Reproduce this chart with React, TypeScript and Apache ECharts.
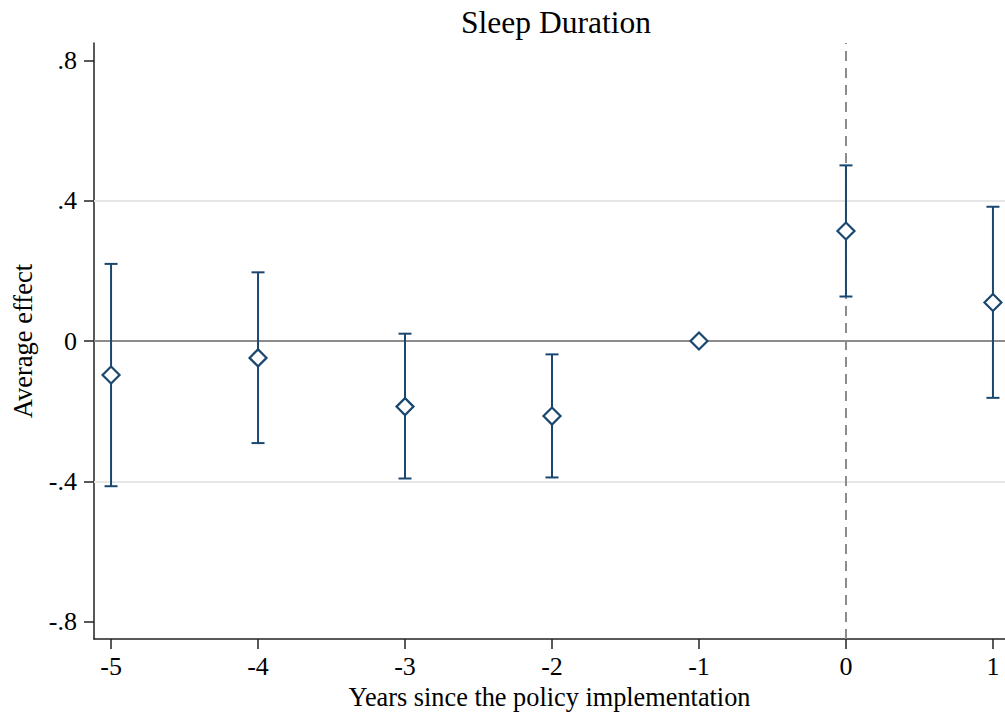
import React, { useEffect, useRef } from "react";
import * as echarts from "echarts";

const years = [-5, -4, -3, -2, -1, 0, 1];
const estimates = [-0.097, -0.048, -0.187, -0.214, 0, 0.314, 0.11];
const upperCI: (number | null)[] = [0.22, 0.196, 0.021, -0.038, null, 0.501, 0.383];
const lowerCI: (number | null)[] = [-0.414, -0.291, -0.392, -0.389, null, 0.127, -0.162];
const yTicks = [-0.8, -0.4, 0, 0.4, 0.8];
const xTicks = [-5, -4, -3, -2, -1, 0, 1];
const gridYs = [-0.4, 0.4];

const NAVY = "#1a476f";
const FONT = "Liberation Serif";

function fmtY(v: number): string {
  if (Math.abs(v) < 1e-9) return "0";
  const s = String(Math.round(Math.abs(v) * 10) / 10).replace(/^0/, "");
  return (v < 0 ? "-" : "") + s;
}

export default function App() {
  const ref = useRef<HTMLDivElement>(null);
  useEffect(() => {
    if (!ref.current) return;
    const chart = echarts.init(ref.current, undefined, { renderer: "svg" });
    const ciData = years
      .map((x, i) => [x, lowerCI[i], upperCI[i]])
      .filter((d) => d[1] !== null && d[2] !== null);
    chart.setOption({
      animation: false,
      backgroundColor: "#ffffff",
      title: {
        text: "Sleep Duration",
        left: 551,
        top: 1,
        textAlign: "center",
        textStyle: { fontFamily: FONT, fontSize: 31.5, fontWeight: "normal", color: "#000" },
      },
      grid: { left: 94, right: 0, top: 43, bottom: 75, containLabel: false },
      xAxis: {
        type: "value",
        min: -5.116,
        max: 1.082,
        name: "Years since the policy implementation",
        nameLocation: "middle",
        nameGap: 42,
        nameTextStyle: { fontFamily: FONT, fontSize: 26.3, color: "#000" },
        axisLine: { show: true, onZero: false, lineStyle: { color: "#222", width: 1.5 } },
        axisTick: { show: true, length: 10, customValues: xTicks, lineStyle: { color: "#222", width: 1.5 } },
        axisLabel: {
          customValues: xTicks,
          fontFamily: FONT,
          fontSize: 26,
          color: "#000",
          margin: 14,
          formatter: (v: number) => String(v),
        },
        splitLine: { show: false },
      },
      yAxis: {
        type: "value",
        min: -0.85,
        max: 0.85,
        name: "Average effect",
        nameLocation: "middle",
        nameGap: 58,
        nameTextStyle: { fontFamily: FONT, fontSize: 26.5, color: "#000" },
        axisLine: { show: true, onZero: false, lineStyle: { color: "#222", width: 1.5 } },
        axisTick: { show: true, length: 10, customValues: yTicks, lineStyle: { color: "#222", width: 1.5 } },
        axisLabel: {
          customValues: yTicks,
          fontFamily: FONT,
          fontSize: 26,
          color: "#000",
          margin: 17,
          formatter: (v: number) => fmtY(v),
        },
        splitLine: { show: false },
      },
      series: [
        {
          type: "line",
          data: [],
          silent: true,
          z: 1,
          markLine: {
            silent: true,
            z: 1,
            symbol: ["none", "none"],
            label: { show: false },
            data: [
              ...gridYs.map((y) => ({ yAxis: y, lineStyle: { color: "#e6e6e6", width: 2, type: "solid" } })),
              { yAxis: 0, lineStyle: { color: "#8c8c8c", width: 2, type: "solid" } },
              { xAxis: 0, lineStyle: { color: "#8c8c8c", width: 2, type: [10, 7] } },
            ],
          },
        },
        {
          type: "custom",
          z: 3,
          silent: true,
          data: ciData,
          renderItem: (params: any, api: any) => {
            const x = api.value(0);
            const lo = api.coord([x, api.value(1)]);
            const hi = api.coord([x, api.value(2)]);
            const hw = 6.5;
            const style = { stroke: NAVY, lineWidth: 2, fill: "none" };
            return {
              type: "group",
              children: [
                { type: "line", shape: { x1: lo[0], y1: lo[1], x2: hi[0], y2: hi[1] }, style },
                { type: "line", shape: { x1: lo[0] - hw, y1: lo[1], x2: lo[0] + hw, y2: lo[1] }, style },
                { type: "line", shape: { x1: hi[0] - hw, y1: hi[1], x2: hi[0] + hw, y2: hi[1] }, style },
              ],
            };
          },
          encode: { x: 0, y: [1, 2] },
        },
        {
          type: "scatter",
          z: 4,
          silent: true,
          symbol: "diamond",
          symbolSize: [17, 17],
          itemStyle: { color: "#ffffff", borderColor: NAVY, borderWidth: 2.2, opacity: 1 },
          data: years.map((x, i) => [x, estimates[i]]),
        },
      ],
    });
    return () => chart.dispose();
  }, []);
  return (
    <div
      ref={ref}
      style={{ position: "fixed", left: 0, top: 0, width: 1005, height: 715, background: "#fff" }}
    />
  );
}
